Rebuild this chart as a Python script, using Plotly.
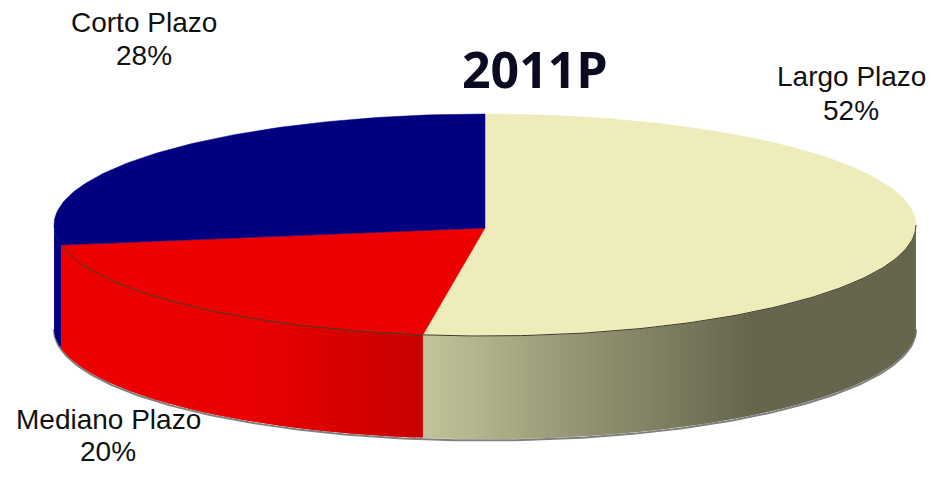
import math
import plotly.graph_objects as go

# Data
categories = ["Largo Plazo", "Mediano Plazo", "Corto Plazo"]
values = [52.3, 19.8, 27.9]
title_text = "2011P"

# Style
top_colors = ["#EDECBA", "#EE0000", "#000080"]
side_stops = [
    [(422, (196, 196, 154)), (560, (154, 154, 120)), (750, (102, 102, 78)), (920, (102, 102, 78))],
    [(50, (238, 0, 0)), (250, (234, 0, 0)), (422, (200, 0, 0))],
    [(50, (0, 0, 128)), (920, (0, 0, 128))],
]
label_pos = {"Largo Plazo": (851, 76, 110), "Mediano Plazo": (108, 419, 451), "Corto Plazo": (144, 22, 55)}

CX, CY, RX, RY = 485.0, 225.0, 431.0, 111.0
APEX = (485.0, 228.0)
DEPTH = 103.0


def pt(deg, dy=0.0):
    r = math.radians(deg)
    return CX + RX * math.sin(r), CY - RY * math.cos(r) + dy


def arc(a, b, dy=0.0, step=1.0):
    n = max(1, int(abs(b - a) / step))
    return [pt(a + (b - a) * i / n, dy) for i in range(n + 1)]


def side_color(stops, x):
    if x <= stops[0][0]:
        c = stops[0][1]
    elif x >= stops[-1][0]:
        c = stops[-1][1]
    else:
        for (x0, c0), (x1, c1) in zip(stops, stops[1:]):
            if x0 <= x <= x1:
                f = (x - x0) / (x1 - x0)
                c = tuple(c0[i] + (c1[i] - c0[i]) * f for i in range(3))
                break
    return "rgb(%d,%d,%d)" % tuple(round(v) for v in c)


def poly(points, fill, line=None, width=0.0):
    xs = [p[0] for p in points]
    ys = [p[1] for p in points]
    return go.Scatter(x=xs, y=ys, mode="lines", fill="toself", fillcolor=fill,
                      line=dict(color=line or fill, width=width), hoverinfo="skip", showlegend=False)


fig = go.Figure()

# Drop shadow beneath the lower rim
rim = arc(90, 270, DEPTH + 1.5)
fig.add_trace(go.Scatter(x=[p[0] for p in rim], y=[p[1] for p in rim], mode="lines",
                         line=dict(color="#7f7f7f", width=2), hoverinfo="skip", showlegend=False))

# Walls and top faces
total = sum(values)
start = 0.0
spans = []
for v in values:
    end = start + v / total * 360.0
    spans.append((start, end))
    start = end

# Walls: each strip overlaps the next so no seams show.
for (a, b), stops in zip(spans, side_stops):
    lo, hi = max(a, 90.0), min(b, 270.0)
    t = lo
    while t < hi:
        t2 = min(t + 1.0, hi)
        t3 = min(t + 2.0, hi)
        upper = arc(t, t3, 0.0, 0.5)
        lower = arc(t3, t, DEPTH, 0.5)
        col = side_color(stops, pt((t + t2) / 2)[0])
        fig.add_trace(poly(upper + lower + [upper[0]], col))
        t = t2

for (a, b), col in zip(spans, top_colors):
    pts = [APEX] + arc(a, b) + [APEX]
    fig.add_trace(poly(pts, col, col, 0.5))

# Dark seam between top face and the walls
seam = arc(90, spans[1][1])
fig.add_trace(go.Scatter(x=[p[0] for p in seam], y=[p[1] for p in seam], mode="lines",
                         line=dict(color="#3a3a2a", width=1), hoverinfo="skip", showlegend=False))

ann = [dict(x=534, y=69, text=title_text, showarrow=False, xanchor="center", yanchor="middle",
            font=dict(family="Noto Sans", size=50, color="#0a0a20", weight="bold"))]
for c, v in zip(categories, values):
    x, y1, y2 = label_pos[c]
    font = dict(family="Liberation Sans", size=28, color="#111111")
    ann.append(dict(x=x, y=y1, text=c, showarrow=False, xanchor="center", yanchor="middle", font=font))
    ann.append(dict(x=x, y=y2, text="%d%%" % round(v), showarrow=False, xanchor="center", yanchor="middle", font=font))

fig.update_layout(
    width=947, height=492, margin=dict(l=0, r=0, t=0, b=0),
    paper_bgcolor="white", plot_bgcolor="white", showlegend=False,
    xaxis=dict(range=[0, 947], visible=False, fixedrange=True),
    yaxis=dict(range=[492, 0], visible=False, fixedrange=True),
    annotations=ann,
)
fig.write_html("out.html", config={"displayModeBar": False},
               post_script="document.body.style.margin='0';document.body.style.overflow='hidden';")
